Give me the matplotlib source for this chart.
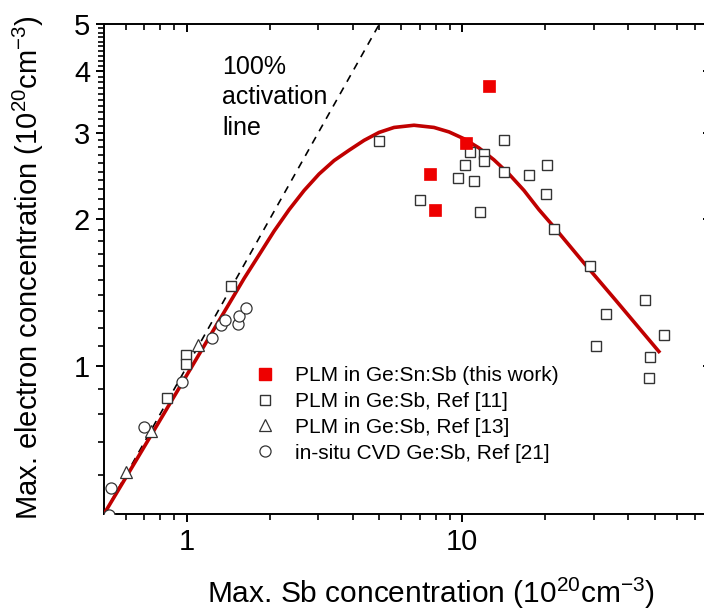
import matplotlib
matplotlib.use("Agg")
import matplotlib.pyplot as plt
from matplotlib.ticker import FixedLocator, NullFormatter, FixedFormatter
from matplotlib.lines import Line2D

plt.rcParams['font.family'] = ['Liberation Sans', 'DejaVu Sans']
plt.rcParams['mathtext.fontset'] = 'custom'
plt.rcParams['mathtext.rm'] = 'Liberation Sans'
plt.rcParams['mathtext.it'] = 'Liberation Sans:italic'
plt.rcParams['mathtext.bf'] = 'Liberation Sans:bold'

# ---- data ----
this_work_x = [12.5, 10.3, 7.62, 7.96]
this_work_y = [3.73, 2.86, 2.47, 2.09]

ref11_x = [1.44, 0.995, 0.99, 0.844, 4.97, 7.05, 10.7, 11.96, 11.96, 10.2, 9.65, 11.0,
           14.2, 14.2, 11.6, 17.5, 20.3, 20.1, 21.6, 29.0, 46.2, 33.2, 53.8, 30.6, 48.1, 47.7]
ref11_y = [1.46, 1.057, 1.011, 0.862, 2.88, 2.19, 2.74, 2.72, 2.63, 2.58, 2.43, 2.39,
           2.90, 2.50, 2.07, 2.46, 2.58, 2.25, 1.91, 1.60, 1.37, 1.28, 1.157, 1.10, 1.044, 0.949]

ref13_x = [1.10, 0.742, 0.599]
ref13_y = [1.108, 0.74, 0.608]

ref21_x = [0.52, 0.529, 0.698, 0.962, 1.236, 1.326, 1.374, 1.538, 1.544, 1.633]
ref21_y = [0.497, 0.564, 0.752, 0.930, 1.141, 1.216, 1.245, 1.221, 1.27, 1.319]

fit_x = [0.5, 0.671, 0.922, 1.246, 1.614, 1.829, 2.074, 2.351, 2.665, 3.020, 3.423,
         3.881, 4.399, 4.986, 5.652, 6.678, 7.894, 8.951, 10.14, 11.50, 13.03, 14.77,
         16.75, 18.98, 21.51, 27.19, 36.03, 51.73]
fit_y = [0.5, 0.659, 0.890, 1.184, 1.513, 1.690, 1.890, 2.090, 2.287, 2.471, 2.632,
         2.763, 2.894, 3.004, 3.075, 3.107, 3.075, 3.011, 2.916, 2.792, 2.641, 2.471,
         2.287, 2.090, 1.927, 1.645, 1.366, 1.073]

activation_x = [0.5, 5.0]
activation_y = [0.5, 5.0]

legend_labels = ["PLM in Ge:Sn:Sb (this work)", "PLM in Ge:Sb, Ref [11]",
                 "PLM in Ge:Sb, Ref [13]", "in-situ CVD Ge:Sb, Ref [21]"]

y_major = [1, 2, 3, 4, 5]
x_major = [1, 10]
x_minor = [0.6, 0.7, 0.8, 0.9, 2, 3, 4, 5, 6, 7, 8, 9, 20, 30, 40, 50, 60, 70]
y_minor = [0.6, 0.7, 0.8, 0.9,
           1.1, 1.2, 1.3, 1.4, 1.5, 1.6, 1.7, 1.8, 1.9,
           2.1, 2.2, 2.3, 2.4, 2.5, 2.6, 2.7, 2.8, 2.9,
           3.1, 3.2, 3.3, 3.4, 3.5, 3.6, 3.7, 3.8, 3.9,
           4.1, 4.2, 4.3, 4.4, 4.5, 4.6, 4.7, 4.8, 4.9]

# ---- figure ----
fig = plt.figure(figsize=(7.04, 6.10), dpi=100)
ax = fig.add_axes([104/704, 96/610, (711-104)/704, (514-24)/610])
ax.set_xscale('log')
ax.set_yscale('log')
ax.set_xlim(0.5, 80)
ax.set_ylim(0.5, 5)

ax.plot(activation_x, activation_y, color='black', lw=1.2, dashes=(4.5, 4), zorder=2)
ax.plot(fit_x, fit_y, color='#C00000', lw=2.6, zorder=3, solid_joinstyle='round')

ms_open = 7.2
ax.plot(ref11_x, ref11_y, ls='none', marker='s', ms=ms_open, mfc='white', mec='#333333', mew=1.0, zorder=4)
ax.plot(ref13_x, ref13_y, ls='none', marker='^', ms=8, mfc='white', mec='#333333', mew=0.9, zorder=4)
ax.plot(ref21_x, ref21_y, ls='none', marker='o', ms=8, mfc='white', mec='#333333', mew=0.9, zorder=4)
ax.plot(this_work_x, this_work_y, ls='none', marker='s', ms=8.6, mfc='#EE0000', mec='#EE0000', mew=0.5, zorder=5)

# ticks
ax.xaxis.set_major_locator(FixedLocator(x_major))
ax.xaxis.set_major_formatter(FixedFormatter([str(v) for v in x_major]))
ax.xaxis.set_minor_locator(FixedLocator(x_minor))
ax.xaxis.set_minor_formatter(NullFormatter())
ax.yaxis.set_major_locator(FixedLocator(y_major))
ax.yaxis.set_major_formatter(FixedFormatter([str(v) for v in y_major]))
ax.yaxis.set_minor_locator(FixedLocator(y_minor))
ax.yaxis.set_minor_formatter(NullFormatter())

for side in ['left', 'bottom', 'top', 'right']:
    ax.spines[side].set_linewidth(1.4)

ax.tick_params(axis='both', which='major', direction='out', length=6, width=1.4, labelsize=21,
               top=True, right=True, pad=4)
ax.tick_params(axis='both', which='minor', direction='out', length=4, width=1.2,
               top=True, right=True)
# top/right ticks inward
for t in ax.xaxis.get_major_ticks() + ax.xaxis.get_minor_ticks():
    t.tick2line.set_marker(matplotlib.lines.TICKDOWN)
for t in ax.yaxis.get_major_ticks() + ax.yaxis.get_minor_ticks():
    t.tick2line.set_marker(matplotlib.lines.TICKLEFT)

ax.set_xlabel("Max. Sb concentration (10$^{20}$cm$^{-3}$)", fontsize=21.5)
ax.xaxis.set_label_coords((430.5-104)/(711-104), -(576-514)/(514-24))
ax.set_ylabel("Max. electron concentration (10$^{20}$cm$^{-3}$)", fontsize=21)
ax.yaxis.set_label_coords(-(104-46)/(711-104), (514-268)/(514-24))

ax.text(222/704, 1 - 55/610, "100%\nactivation\nline", transform=fig.transFigure,
        fontsize=18, ha='left', va='top', linespacing=1.33)

handles = [
    Line2D([], [], ls='none', marker='s', ms=8.6, mfc='#EE0000', mec='#EE0000'),
    Line2D([], [], ls='none', marker='s', ms=ms_open, mfc='white', mec='#333333', mew=1.0),
    Line2D([], [], ls='none', marker='^', ms=8, mfc='white', mec='#333333', mew=0.9),
    Line2D([], [], ls='none', marker='o', ms=8, mfc='white', mec='#333333', mew=0.9),
]
leg = ax.legend(handles, legend_labels, loc='upper left',
                bbox_to_anchor=(255/704, 1 - 366/610), bbox_transform=fig.transFigure,
                frameon=False, fontsize=15, handlelength=1.0, handletextpad=0.9,
                labelspacing=0.33, borderpad=0, borderaxespad=0)

fig.savefig("out.png", dpi=100)
